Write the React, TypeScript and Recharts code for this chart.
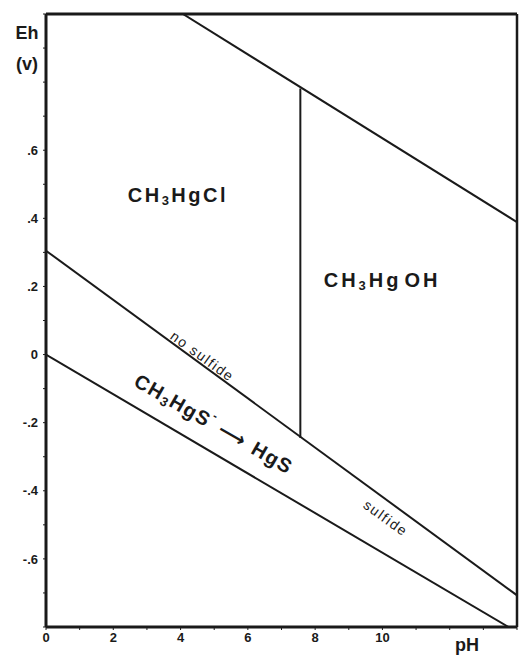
import React from 'react'
import { LineChart, Line, XAxis, YAxis, ReferenceLine, ReferenceDot } from 'recharts'

// Eh–pH stability field diagram for methylmercury species

const FONT = '"Liberation Sans", Arial, sans-serif'
const INK = '#1a1a1a'

// axis ticks (pH 0..14, Eh -0.8..1.0 V)
const X_TICKS = [0, 1, 2, 3, 4, 5, 6, 7, 8, 9, 10, 11, 12, 13, 14]
const X_TICK_LABELS = ['0', '', '2', '', '4', '', '6', '', '8', '', '10', '', '', '', '']
const Y_TICKS = [-0.8, -0.7, -0.6, -0.5, -0.4, -0.3, -0.2, -0.1, 0, 0.1, 0.2, 0.3, 0.4, 0.5, 0.6, 0.7, 0.8, 0.9, 1.0]
const Y_TICK_LABELS = ['', '', '-.6', '', '-.4', '', '-.2', '', '0', '', '.2', '', '.4', '', '.6', '', '', '', '']

// boundary lines (pH, Eh)
const UPPER_PH = [4.07, 14]
const UPPER_EH = [1.0, 0.389]
const DIVIDE_PH = [7.56, 7.56]
const DIVIDE_EH = [0.781, -0.245]
const SULFIDE_PH = [0, 14]
const SULFIDE_EH = [0.305, -0.707]
const LOWER_PH = [0, 13.75]
const LOWER_EH = [0, -0.8]

const toRows = (ph: number[], eh: number[]) => ph.map((p, i) => ({ ph: p, eh: eh[i] }))

const upperData = toRows(UPPER_PH, UPPER_EH)
const divideData = toRows(DIVIDE_PH, DIVIDE_EH)
const sulfideData = toRows(SULFIDE_PH, SULFIDE_EH)
const lowerData = toRows(LOWER_PH, LOWER_EH)

// field / line annotations
const NOTE_IDS = ['chloride', 'hydroxide', 'noSulfide', 'sulfideSpecies', 'sulfide']
const NOTE_PH = [3.92, 9.99, 4.65, 4.99, 10.1]
const NOTE_EH = [0.469, 0.219, -0.005, -0.204, -0.48]
const NOTE_ANGLE = [0, 0, 36, 30, 36]

function noteBody(id: string) {
  switch (id) {
    case 'chloride':
      return (
        <text fontSize={20} fontWeight={700} letterSpacing={2.5}>
          <tspan>CH</tspan>
          <tspan fontSize={13} dy={5}>3</tspan>
          <tspan dy={-5}>HgCl</tspan>
        </text>
      )
    case 'hydroxide':
      return (
        <text fontSize={20} fontWeight={700} letterSpacing={3}>
          <tspan>CH</tspan>
          <tspan fontSize={13} dy={5}>3</tspan>
          <tspan dy={-5}>Hg</tspan>
          <tspan dx={3}>OH</tspan>
        </text>
      )
    case 'noSulfide':
      return (
        <text fontSize={14} letterSpacing={1.5}>
          no sulfide
        </text>
      )
    case 'sulfideSpecies':
      return (
        <text fontSize={20} fontWeight={600} letterSpacing={1.5}>
          <tspan>CH</tspan>
          <tspan fontSize={13} dy={5}>3</tspan>
          <tspan dy={-5}>HgS</tspan>
          <tspan fontSize={12} dy={-8}>-</tspan>
          <tspan fontSize={20} dy={8} dx={6} fontFamily="DejaVu Sans" letterSpacing={0}>⟶</tspan>
          <tspan dx={10}>HgS</tspan>
        </text>
      )
    default:
      return (
        <text fontSize={14} letterSpacing={1.5}>
          sulfide
        </text>
      )
  }
}

function Note({ cx, cy, id, angle }: { cx?: number; cy?: number; id: string; angle: number }) {
  if (cx == null || cy == null) return null
  const body = noteBody(id)
  return (
    <g transform={`translate(${cx},${cy}) rotate(${angle})`}>
      {React.cloneElement(body, {
        x: 0,
        y: 0,
        textAnchor: 'middle',
        dominantBaseline: 'central',
        fill: INK,
        fontFamily: FONT,
      } as any)}
    </g>
  )
}

function EhTitle({ viewBox }: any) {
  if (!viewBox) return null
  const x = viewBox.x + 17
  return (
    <g fontFamily={FONT} fontWeight={700} fill={INK} textAnchor="middle">
      <text x={x} y={viewBox.y + 25} fontSize={18}>Eh</text>
      <text x={x} y={viewBox.y + 56} fontSize={18}>(v)</text>
    </g>
  )
}

function PhTitle({ viewBox }: any) {
  if (!viewBox) return null
  return (
    <text
      x={viewBox.x + viewBox.width - 50}
      y={viewBox.y + 24}
      fontFamily={FONT}
      fontWeight={700}
      fontSize={18}
      fill={INK}
      textAnchor="middle"
    >
      pH
    </text>
  )
}

const lineProps = {
  type: 'linear' as const,
  dataKey: 'eh',
  stroke: INK,
  strokeWidth: 2,
  dot: false,
  activeDot: false,
  isAnimationActive: false,
  legendType: 'none' as const,
}

export default function App() {
  return (
    <div style={{ position: 'absolute', left: 0, top: 0, background: '#fff' }}>
      <LineChart width={519} height={657} margin={{ top: 14, right: 2, left: 10, bottom: 8 }}>
        <XAxis
          type="number"
          dataKey="ph"
          domain={[0, 14]}
          ticks={X_TICKS}
          tickFormatter={(_v: number, i: number) => X_TICK_LABELS[i] ?? ''}
          interval={0}
          height={22}
          axisLine={{ stroke: INK, strokeWidth: 3 }}
          tickLine={{ stroke: INK }}
          tickSize={3}
          tickMargin={3}
          tick={{ fontSize: 13, fontWeight: 700, fill: INK, fontFamily: FONT }}
          allowDataOverflow
          label={<PhTitle />}
        />
        <YAxis
          type="number"
          domain={[-0.8, 1.0]}
          ticks={Y_TICKS}
          tickFormatter={(_v: number, i: number) => Y_TICK_LABELS[i] ?? ''}
          interval={0}
          width={36}
          axisLine={{ stroke: INK, strokeWidth: 3 }}
          tickLine={{ stroke: INK }}
          tickSize={3}
          tickMargin={5}
          tick={{ fontSize: 13, fontWeight: 700, fill: INK, fontFamily: FONT }}
          allowDataOverflow
          label={<EhTitle />}
        />
        <ReferenceLine y={1.0} stroke={INK} strokeWidth={3} />
        <ReferenceLine x={14} stroke={INK} strokeWidth={2.5} />
        <Line {...lineProps} data={upperData} />
        <Line {...lineProps} data={divideData} />
        <Line {...lineProps} data={sulfideData} />
        <Line {...lineProps} data={lowerData} />
        {NOTE_IDS.map((id, i) => (
          <ReferenceDot
            key={id}
            x={NOTE_PH[i]}
            y={NOTE_EH[i]}
            r={1}
            shape={(p: any) => <Note cx={p.cx} cy={p.cy} id={id} angle={NOTE_ANGLE[i]} />}
          />
        ))}
      </LineChart>
    </div>
  )
}
